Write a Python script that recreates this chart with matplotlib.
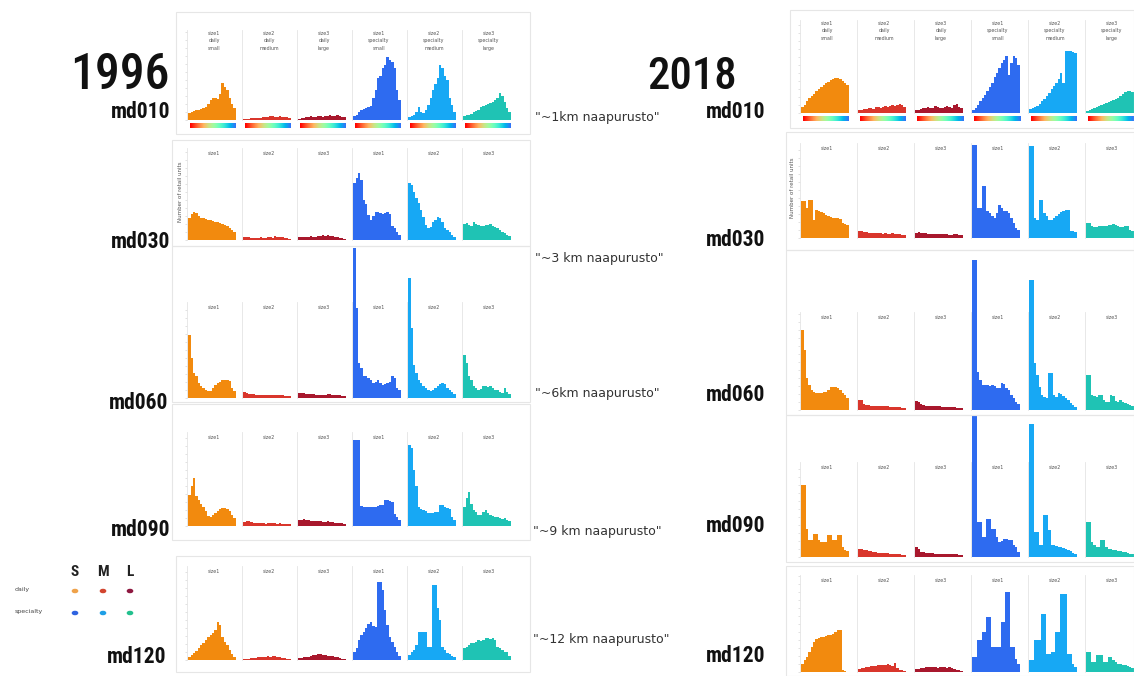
import matplotlib
matplotlib.use("Agg")
import matplotlib.pyplot as plt
from matplotlib import font_manager
import numpy as np
from matplotlib.patches import Rectangle

W, H = 1134, 676

# ---------------- data ----------------
years = ["1996", "2018"]
rows = ["md010", "md030", "md060", "md090", "md120"]
notes = ['"~1km naapurusto"', '"~3 km naapurusto"', '"~6km naapurusto"',
         '"~9 km naapurusto"', '"~12 km naapurusto"']
store_types = ["daily", "specialty"]
size_codes = ["S", "M", "L"]
top_titles = ["size1\ndaily\nsmall", "size2\ndaily\nmedium", "size3\ndaily\nlarge",
              "size1\nspecialty\nsmall", "size2\nspecialty\nmedium", "size3\nspecialty\nlarge"]
short_titles = ["size1", "size2", "size3", "size1", "size2", "size3"]
ylabel = "Number of retail units"

# counts per distance bin (20 bins), order: daily S/M/L, specialty S/M/L
h1996_md010 = [
    [7, 8, 9, 10, 10, 11, 12, 13, 16, 20, 22, 22, 21, 26, 37, 33, 30, 22, 16, 12],
    [1, 1, 1, 2, 2, 2, 2, 2, 3, 3, 3, 4, 4, 3, 3, 4, 3, 3, 3, 2],
    [1, 2, 2, 3, 3, 4, 3, 3, 4, 4, 3, 4, 4, 5, 4, 4, 5, 4, 3, 3],
    [4, 5, 8, 10, 11, 12, 13, 14, 22, 30, 42, 44, 52, 55, 63, 60, 58, 52, 30, 20],
    [3, 4, 5, 8, 13, 8, 7, 10, 15, 22, 30, 36, 42, 55, 52, 44, 40, 22, 15, 8],
    [4, 5, 5, 6, 8, 9, 10, 13, 14, 15, 16, 17, 18, 20, 22, 27, 24, 18, 12, 8],
]
h1996_md030 = [
    [22, 26, 28, 27, 24, 22, 22, 21, 20, 20, 19, 18, 18, 17, 16, 15, 14, 12, 10, 8],
    [3, 3, 3, 2, 2, 2, 2, 3, 2, 2, 3, 3, 2, 4, 3, 3, 3, 2, 2, 1],
    [3, 3, 3, 3, 3, 4, 3, 3, 4, 4, 5, 4, 5, 4, 4, 3, 3, 2, 2, 1],
    [57, 62, 67, 60, 40, 36, 25, 20, 24, 28, 28, 27, 26, 27, 28, 26, 14, 12, 8, 5],
    [57, 55, 48, 42, 37, 30, 23, 15, 12, 13, 18, 20, 23, 22, 18, 12, 10, 8, 5, 3],
    [16, 17, 15, 14, 18, 16, 15, 14, 14, 15, 15, 16, 14, 13, 12, 10, 8, 7, 5, 4],
]
h1996_md060 = [
    [63, 40, 25, 22, 15, 12, 10, 8, 7, 7, 10, 13, 15, 16, 18, 18, 18, 17, 10, 7],
    [6, 5, 4, 4, 4, 3, 3, 3, 3, 3, 3, 3, 3, 3, 3, 3, 3, 2, 2, 2],
    [5, 5, 5, 4, 4, 4, 4, 3, 3, 3, 3, 3, 4, 4, 3, 3, 3, 3, 2, 2],
    [150, 90, 35, 30, 22, 22, 20, 18, 15, 16, 18, 15, 13, 14, 15, 16, 22, 20, 10, 8],
    [120, 70, 33, 25, 18, 15, 12, 10, 8, 7, 8, 10, 12, 14, 15, 14, 10, 8, 6, 4],
    [43, 35, 22, 18, 12, 10, 8, 9, 12, 12, 11, 12, 10, 8, 8, 6, 5, 10, 6, 4],
]
h1996_md090 = [
    [31, 40, 48, 30, 26, 22, 19, 15, 10, 9, 11, 13, 15, 17, 18, 18, 17, 15, 11, 8],
    [4, 5, 5, 4, 3, 3, 3, 3, 3, 2, 3, 3, 3, 3, 2, 3, 2, 2, 2, 2],
    [6, 6, 7, 6, 6, 5, 5, 5, 5, 5, 4, 4, 5, 4, 4, 3, 3, 3, 3, 2],
    [86, 86, 86, 20, 19, 19, 19, 19, 19, 19, 20, 21, 21, 26, 26, 25, 24, 12, 9, 6],
    [81, 78, 56, 40, 19, 17, 16, 15, 13, 13, 13, 14, 14, 21, 21, 19, 18, 17, 9, 6],
    [19, 28, 34, 22, 16, 14, 11, 11, 14, 16, 13, 11, 10, 9, 9, 8, 7, 8, 6, 5],
]
h1996_md120 = [
    [3, 5, 7, 9, 12, 15, 17, 20, 23, 25, 27, 30, 38, 35, 23, 18, 15, 10, 6, 3],
    [1, 1, 1, 2, 2, 2, 3, 3, 3, 3, 4, 3, 4, 4, 3, 3, 2, 2, 1, 1],
    [2, 2, 3, 3, 3, 4, 5, 5, 6, 6, 5, 5, 4, 4, 4, 3, 3, 2, 1, 1],
    [8, 12, 20, 25, 28, 32, 36, 38, 34, 33, 78, 78, 70, 50, 35, 23, 18, 13, 8, 4],
    [5, 8, 10, 15, 28, 28, 28, 28, 13, 13, 75, 75, 52, 40, 13, 10, 7, 6, 4, 3],
    [12, 13, 15, 17, 17, 18, 20, 19, 20, 22, 22, 21, 22, 20, 13, 12, 10, 8, 8, 4],
]
h2018_md010 = [
    [6, 8, 12, 15, 17, 19, 22, 24, 26, 28, 30, 31, 33, 34, 35, 35, 34, 32, 30, 28],
    [3, 3, 4, 4, 5, 5, 4, 6, 6, 5, 6, 7, 6, 7, 8, 7, 8, 9, 8, 6],
    [3, 3, 4, 5, 5, 6, 5, 5, 7, 6, 5, 5, 6, 7, 6, 5, 8, 9, 6, 5],
    [3, 5, 8, 12, 15, 18, 22, 26, 30, 36, 40, 45, 50, 53, 57, 38, 50, 57, 55, 48],
    [4, 5, 6, 7, 9, 12, 14, 17, 20, 24, 27, 30, 34, 40, 30, 62, 62, 62, 61, 60],
    [2, 3, 4, 5, 6, 7, 8, 9, 10, 11, 12, 13, 14, 15, 17, 19, 21, 22, 22, 21],
]
h2018_md030 = [
    [37, 37, 30, 38, 38, 18, 28, 27, 26, 25, 23, 22, 21, 20, 20, 20, 19, 15, 14, 13],
    [7, 7, 6, 6, 5, 5, 5, 5, 5, 5, 4, 5, 4, 4, 5, 4, 4, 4, 3, 3],
    [5, 6, 5, 5, 5, 4, 4, 4, 4, 4, 4, 4, 4, 4, 3, 3, 4, 4, 3, 3],
    [93, 93, 30, 30, 52, 52, 27, 25, 22, 20, 25, 33, 30, 27, 27, 25, 20, 15, 10, 8],
    [92, 92, 20, 18, 38, 38, 25, 22, 18, 18, 20, 22, 24, 26, 27, 28, 28, 7, 7, 6],
    [15, 15, 12, 11, 11, 12, 12, 12, 12, 13, 13, 14, 13, 12, 11, 11, 12, 12, 8, 7],
]
h2018_md060 = [
    [80, 60, 32, 25, 20, 18, 17, 17, 17, 18, 18, 20, 23, 23, 23, 22, 20, 17, 15, 12],
    [10, 10, 6, 5, 5, 4, 4, 4, 4, 4, 4, 4, 4, 3, 3, 3, 3, 3, 2, 2],
    [9, 8, 6, 5, 4, 4, 4, 4, 4, 4, 4, 3, 3, 3, 3, 3, 3, 2, 2, 2],
    [150, 150, 38, 30, 25, 25, 25, 24, 25, 24, 22, 22, 27, 26, 22, 20, 15, 12, 8, 6],
    [130, 130, 47, 35, 23, 15, 13, 12, 37, 37, 15, 13, 17, 16, 14, 12, 10, 7, 5, 3],
    [35, 35, 15, 14, 13, 15, 15, 10, 8, 8, 15, 14, 9, 8, 10, 8, 7, 6, 5, 4],
]
h2018_md090 = [
    [72, 72, 28, 17, 17, 23, 23, 17, 15, 15, 15, 22, 22, 17, 17, 22, 22, 10, 7, 6],
    [8, 8, 7, 7, 6, 6, 5, 5, 4, 4, 4, 4, 4, 3, 3, 3, 3, 3, 2, 2],
    [10, 8, 5, 5, 4, 4, 4, 4, 3, 3, 3, 3, 3, 3, 3, 3, 3, 3, 2, 2],
    [142, 142, 35, 35, 20, 20, 38, 38, 28, 28, 20, 15, 16, 18, 18, 17, 17, 12, 10, 5],
    [133, 133, 25, 25, 12, 12, 42, 42, 27, 12, 12, 11, 10, 10, 9, 8, 7, 6, 4, 3],
    [35, 35, 15, 12, 10, 10, 17, 17, 10, 8, 8, 7, 7, 6, 6, 5, 5, 4, 3, 3],
]
h2018_md120 = [
    [8, 12, 15, 20, 25, 30, 33, 34, 35, 35, 36, 37, 37, 38, 40, 42, 42, 2, 1, 0],
    [3, 4, 4, 5, 5, 6, 6, 6, 7, 7, 7, 7, 8, 7, 6, 9, 4, 2, 2, 1],
    [3, 3, 4, 4, 5, 5, 5, 5, 5, 4, 5, 5, 5, 4, 5, 4, 3, 2, 2, 1],
    [15, 15, 32, 32, 40, 40, 55, 55, 25, 25, 25, 25, 50, 50, 80, 80, 25, 25, 13, 8],
    [12, 12, 32, 32, 32, 58, 58, 18, 18, 20, 20, 40, 40, 78, 78, 78, 18, 18, 8, 5],
    [20, 20, 10, 10, 17, 17, 17, 10, 10, 15, 15, 12, 10, 8, 8, 7, 7, 6, 5, 4],
]

data = {
    "1996": [h1996_md010, h1996_md030, h1996_md060, h1996_md090, h1996_md120],
    "2018": [h2018_md010, h2018_md030, h2018_md060, h2018_md090, h2018_md120],
}

# ---------------- styling / layout ----------------
panel_colors = ["#F28A0E", "#D9362C", "#A8182D", "#2E6BF0", "#17A8F4", "#1FC3B4"]
legend_colors = ["#EFA24A", "#D2452F", "#8E1840", "#2F63E0", "#1E9FE6", "#22C08E"]

col_x = {"1996": [190, 245, 300, 355, 410, 465], "2018": [803, 860, 917, 974, 1031, 1088]}
panel_w = 46
row_y = {"1996": [(30, 120), (148, 240), (302, 398), (432, 526), (566, 660)],
         "2018": [(20, 113), (143, 238), (312, 410), (462, 557), (575, 672)]}
frames = {"1996": [(176, 12, 530, 134), (172, 140, 530, 246), (172, 246, 530, 402),
                   (172, 404, 530, 540), (176, 556, 530, 672)],
          "2018": [(790, 10, 1134, 128), (786, 132, 1134, 250), (786, 250, 1134, 415),
                   (786, 415, 1134, 562), (786, 566, 1134, 676)]}
label_pos = {"1996": [(170, 118), (170, 248), (168, 409), (170, 536), (166, 663)],
             "2018": [(765, 118), (765, 246), (765, 401), (765, 532), (765, 662)]}
note_pos = [(535, 118), (535, 258), (535, 394), (533, 532), (533, 640)]

# pick a condensed font if one is installed, else a narrow-ish sans
names = {f.name for f in font_manager.fontManager.ttflist}
cond_names = [f.name for f in font_manager.fontManager.ttflist
              if str(f.stretch) in ("condensed", "semi-condensed", "extra-condensed")
              or "Narrow" in f.name or "Condensed" in f.name]
condensed = False
for pref in ["Liberation Sans Narrow", "Roboto Condensed", "Open Sans Condensed"] + cond_names:
    if pref in names:
        head = pref
        condensed = True
        break
else:
    head = "Roboto" if "Roboto" in names else "DejaVu Sans"
headfam = [head, "DejaVu Sans"]
stretch = "condensed"
k = 1.15 if condensed else 1.0

fig = plt.figure(figsize=(W / 100, H / 100), dpi=100)
fig.patch.set_facecolor("white")


def px_axes(x0, y0, x1, y1):
    return fig.add_axes([x0 / W, 1 - y1 / H, (x1 - x0) / W, (y1 - y0) / H])


# frames
for yr in years:
    for (x0, y0, x1, y1) in frames[yr]:
        fig.patches.append(Rectangle((x0 / W, 1 - y1 / H), (x1 - x0) / W, (y1 - y0) / H,
                                     transform=fig.transFigure, fill=False,
                                     edgecolor="#E6E6E6", linewidth=0.8))

nbins = 20
strip = plt.get_cmap("rainbow_r")(np.linspace(0.0, 0.85, 64))[None, :, :]
for yr in years:
    for ri, rname in enumerate(rows):
        top, base = row_y[yr][ri]
        hpx = base - top
        for ci in range(6):
            x0 = col_x[yr][ci]
            ax = px_axes(x0 - 3, top, x0 + panel_w, base)
            vals = data[yr][ri][ci]
            ax.bar(np.arange(nbins) + 0.5, vals, width=1.0, align="edge",
                   color=panel_colors[ci], linewidth=0, clip_on=False)
            ax.set_xlim(0, nbins + 0.6)
            ax.set_ylim(0, hpx)
            for s in ["top", "right", "bottom"]:
                ax.spines[s].set_visible(False)
            ax.spines["left"].set_color("#E4E4E4")
            ax.spines["left"].set_linewidth(0.6)
            ax.set_xticks([])
            if ci == 0:
                ax.set_yticks(np.arange(0, hpx, 8))
                ax.tick_params(axis="y", length=1.5, width=0.4, color="#CCCCCC",
                               labelleft=False)
            else:
                ax.set_yticks([])
            ax.patch.set_alpha(0)
            title = top_titles[ci] if ri == 0 else short_titles[ci]
            ax.text(0.55, 0.99 if ri == 0 else 0.97, title, transform=ax.transAxes,
                    ha="center", va="top", fontsize=3.4, color="#555555",
                    linespacing=1.6)
            if ri == 0:
                sax = px_axes(x0, base + 3, x0 + panel_w, base + 8)
                sax.imshow(strip, aspect="auto", extent=(0, 1, 0, 1))
                sax.axis("off")
        # row label
        lx, ly = label_pos[yr][ri]
        fig.text(lx / W, 1 - ly / H, rname, ha="right", va="baseline",
                 fontsize=13.5 * k, fontweight="bold", family=headfam,
                 fontstretch=stretch, color="#111111")

# y-axis labels
fig.text(181 / W, 1 - 192 / H, ylabel, rotation=90, ha="center", va="center",
         fontsize=4, color="#555555")
fig.text(792 / W, 1 - 188 / H, ylabel, rotation=90, ha="center", va="center",
         fontsize=4, color="#555555")

# year titles
fig.text(120 / W, 1 - 89 / H, years[0], ha="center", va="baseline", fontsize=31 * k,
         fontweight="medium", family=headfam, fontstretch=stretch, color="#111111")
fig.text(692 / W, 1 - 89 / H, years[1], ha="center", va="baseline", fontsize=28 * k,
         fontweight="medium", family=headfam, fontstretch=stretch, color="#111111")

# notes
for (nx, ny), t in zip(note_pos, notes):
    fig.text(nx / W, 1 - ny / H, t, ha="left", va="center", fontsize=9,
             color="#333333")

# legend
leg_x = [75, 103, 130]
for i, s in enumerate(size_codes):
    fig.text(leg_x[i] / W, 1 - 576 / H, s, ha="center", va="baseline", fontsize=11,
             fontweight="bold", family=headfam, fontstretch=stretch, color="#222222")
for ti, (t, ly) in enumerate(zip(store_types, [590, 612])):
    fig.text(15 / W, 1 - ly / H, t, ha="left", va="center", fontsize=4.5,
             color="#444444")
    for si in range(3):
        fig.patches.append(plt.Circle((leg_x[si] / W, 1 - (ly + 1) / H), 2.6 / W,
                                      transform=fig.transFigure,
                                      color=legend_colors[ti * 3 + si]))

fig.savefig("out.png", dpi=100, facecolor="white")
